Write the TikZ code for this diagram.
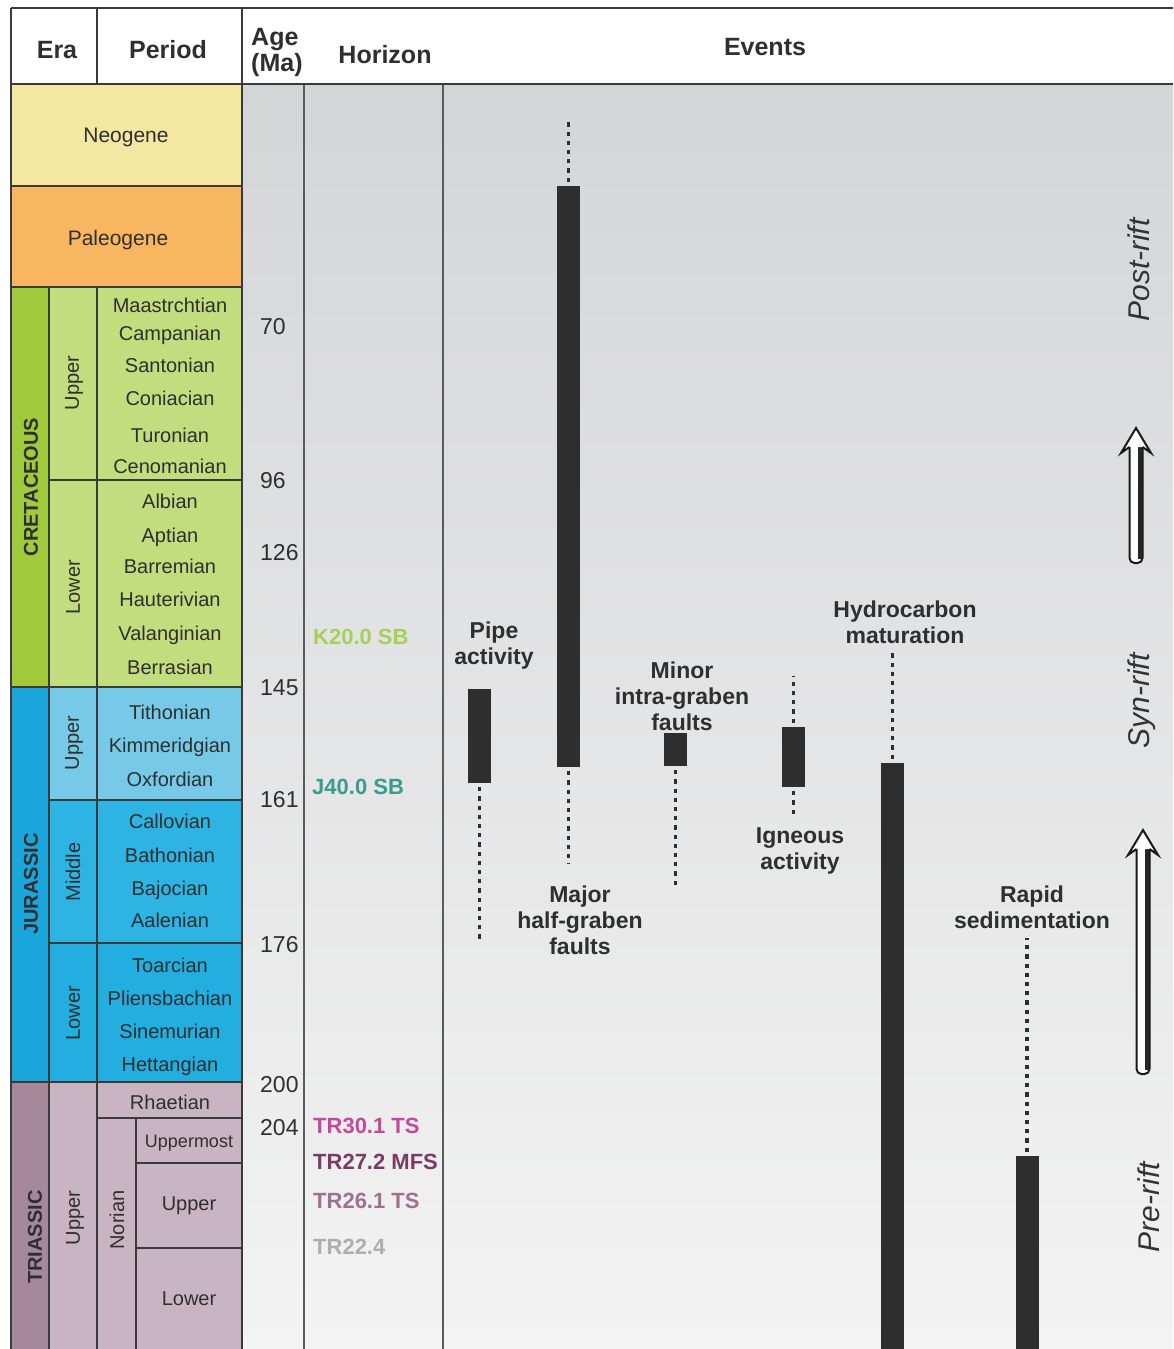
\documentclass[tikz,border=0pt]{standalone}
\usepackage{fontspec}
\setmainfont{Liberation Sans}
\definecolor{linec}{HTML}{3A3A3A}
\definecolor{vline}{HTML}{5A5A5A}
\definecolor{txt}{HTML}{2F2F2F}
\definecolor{neo}{HTML}{F3E7A2}
\definecolor{pal}{HTML}{F9B661}
\definecolor{kEra}{HTML}{A0C93C}
\definecolor{kSt}{HTML}{C2DD7E}
\definecolor{jEra}{HTML}{1BA6DB}
\definecolor{jUp}{HTML}{76CAE8}
\definecolor{jMid}{HTML}{2DB4E3}
\definecolor{jLow}{HTML}{22AEDF}
\definecolor{tEra}{HTML}{A5899A}
\definecolor{tSt}{HTML}{C9B5C1}
\definecolor{bgtop}{HTML}{D4D5D7}
\definecolor{bgbot}{HTML}{F3F3F3}
\definecolor{barc}{HTML}{2E2E2E}
\definecolor{hK}{HTML}{A5D05A}
\definecolor{hJ}{HTML}{3A9B8E}
\definecolor{hTa}{HTML}{C4489B}
\definecolor{hTb}{HTML}{7B3B63}
\definecolor{hTc}{HTML}{A0718F}
\definecolor{hTd}{HTML}{AEAEAE}
\newcommand\fsz[1]{\fontsize{#1}{#1}\selectfont}
\tikzset{
  every node/.style={inner sep=0pt, text=txt},
  divline/.style={draw=linec, line width=1.4pt},
  frameline/.style={draw=linec, line width=2pt},
  gline/.style={draw=vline, line width=1.5pt},
  stagelbl/.style={anchor=base, font=\fsz{20}},
  rotlbl/.style={rotate=90, font=\fsz{20}},
  eralbl/.style={rotate=90, font=\bfseries\fsz{20}},
  agelbl/.style={anchor=base west, font=\fsz{23}},
  hzlbl/.style={anchor=base west, font=\bfseries\fsz{22}},
  hdrlbl/.style={anchor=base, font=\bfseries\fsz{25}},
  evlbl/.style={align=center, font=\bfseries\fontsize{23}{26}\selectfont},
  evbar/.style={fill=barc, minimum width=23pt},
  dotline/.style={draw=barc, line width=3.8pt, dash pattern=on 4.2pt off 5pt, shorten <=4pt},
  riftlbl/.style={rotate=90, font=\itshape\fsz{30}, text=black!80},
}
\begin{document}
\begin{tikzpicture}[x=1pt,y=-1pt]
\useasboundingbox (0,0) rectangle (1173,1349);
\fill[white] (0,0) rectangle (1173,1349);
\shade[top color=bgtop, bottom color=bgbot] (242,84) rectangle (1173,1349);

% ---- time scale boxes
\filldraw[divline, fill=neo] (11,84) rectangle (242,186);
\filldraw[divline, fill=pal] (11,186) rectangle (242,287);
\filldraw[divline, fill=kEra] (11,287) rectangle (49,687);
\filldraw[divline, fill=kSt] (49,287) rectangle (97,480);
\filldraw[divline, fill=kSt] (49,480) rectangle (97,687);
\filldraw[divline, fill=kSt] (97,287) rectangle (242,480);
\filldraw[divline, fill=kSt] (97,480) rectangle (242,687);
\filldraw[divline, fill=jEra] (11,687) rectangle (49,1082);
\filldraw[divline, fill=jUp] (49,687) rectangle (97,800);
\filldraw[divline, fill=jUp] (97,687) rectangle (242,800);
\filldraw[divline, fill=jMid] (49,800) rectangle (97,943);
\filldraw[divline, fill=jMid] (97,800) rectangle (242,943);
\filldraw[divline, fill=jLow] (49,943) rectangle (97,1082);
\filldraw[divline, fill=jLow] (97,943) rectangle (242,1082);
\filldraw[divline, fill=tEra] (11,1082) rectangle (49,1360);
\filldraw[divline, fill=tSt] (49,1082) rectangle (97,1360);
\filldraw[divline, fill=tSt] (97,1082) rectangle (242,1118);
\filldraw[divline, fill=tSt] (97,1118) rectangle (136,1360);
\filldraw[divline, fill=tSt] (136,1118) rectangle (242,1163);
\filldraw[divline, fill=tSt] (136,1163) rectangle (242,1248);
\filldraw[divline, fill=tSt] (136,1248) rectangle (242,1360);

% ---- column lines and frame
\draw[gline] (304,84) -- (304,1349);
\draw[gline] (443,84) -- (443,1349);
\draw[frameline] (11,8) -- (1173,8);
\draw[frameline] (11,84) -- (1173,84);
\draw[frameline] (11,8) -- (11,1349);
\draw[frameline] (97,8) -- (97,84);
\draw[frameline] (242,8) -- (242,1349);

% ---- header
\node[hdrlbl] (hEra) at (57,58) {Era};
\node[hdrlbl] (hPer) at (168,58) {Period};
\node[anchor=west, align=left, font=\bfseries\fontsize{25}{26}\selectfont] (hAge) at (251,52) {Age\\(Ma)};
\node[hdrlbl] (hHor) at (385,63) {Horizon};
\node[hdrlbl] (hEv) at (765,55) {Events};

% ---- periods and eras
\node[anchor=base, font=\fsz{21}] (pNeo) at (126,142) {Neogene};
\node[anchor=base, font=\fsz{21}] (pPal) at (118,245) {Paleogene};
\node[eralbl] (eK) at (31,487) {CRETACEOUS};
\node[eralbl] (eJ) at (31,884) {JURASSIC};
\node[eralbl] (eT) at (35,1237) {TRIASSIC};
\node[rotlbl] (kU) at (74,383) {Upper};
\node[rotlbl] (kL) at (73,587) {Lower};
\node[rotlbl] (jU) at (74,743) {Upper};
\node[rotlbl] (jM) at (73,872) {Middle};
\node[rotlbl] (jL) at (73,1013) {Lower};
\node[rotlbl] (tU) at (75,1218) {Upper};
\node[rotlbl] (tN) at (117,1220) {Norian};

% ---- stages
\foreach \nm/\st/\yy in {
  s1/Maastrchtian/312, s2/Campanian/340, s3/Santonian/372, s4/Coniacian/405,
  s5/Turonian/442, s6/Cenomanian/473, s7/Albian/508, s8/Aptian/542,
  s9/Barremian/573, s10/Hauterivian/606, s11/Valanginian/640, s12/Berrasian/674,
  s13/Tithonian/719, s14/Kimmeridgian/752, s15/Oxfordian/786, s16/Callovian/828,
  s17/Bathonian/862, s18/Bajocian/895, s19/Aalenian/927, s20/Toarcian/972,
  s21/Pliensbachian/1005, s22/Sinemurian/1038, s23/Hettangian/1071, s24/Rhaetian/1109}
  \node[stagelbl] (\nm) at (170,\yy) {\st};
\node[anchor=base, font=\fsz{18}] (s25) at (189,1147) {Uppermost};
\node[stagelbl] (s26) at (189,1210) {Upper};
\node[stagelbl] (s27) at (189,1305) {Lower};

% ---- ages
\foreach \nm/\ag/\yy in {a1/70/334, a2/96/488, a3/126/560, a4/145/695,
  a5/161/807, a6/176/952, a7/200/1092, a8/204/1135}
  \node[agelbl] (\nm) at (260,\yy) {\ag};

% ---- horizons
\node[hzlbl, text=hK] (hz1) at (313,644) {K20.0 SB};
\node[hzlbl, text=hJ] (hz2) at (312,794) {J40.0 SB};
\node[hzlbl, text=hTa] (hz3) at (313,1133) {TR30.1 TS};
\node[hzlbl, text=hTb] (hz4) at (313,1169) {TR27.2 MFS};
\node[hzlbl, text=hTc] (hz5) at (313,1208) {TR26.1 TS};
\node[hzlbl, text=hTd] (hz6) at (313,1254) {TR22.4};

% ---- event labels
\node[evlbl] (lPipe) at (494,646) {Pipe\\activity};
\node[evlbl] (lMajor) at (580,920) {Major\\half-graben\\faults};
\node[evlbl] (lMinor) at (682,696) {Minor\\intra-graben\\faults};
\node[evlbl] (lIgn) at (800,851) {Igneous\\activity};
\node[evlbl] (lHyd) at (905,622) {Hydrocarbon\\maturation};
\node[evlbl] (lRap) at (1032,907) {Rapid\\sedimentation};

% ---- event bars
\node[evbar, minimum height=94pt] (bPipe) at (479.5,736) {};
\node[evbar, minimum height=581pt] (bMajor) at (568.5,476.5) {};
\node[evbar, minimum height=33pt] (bMinor) at (675.5,749.5) {};
\node[evbar, minimum height=60pt] (bIgn) at (793.5,757) {};
\node[evbar, minimum height=586pt] (bHyd) at (892.5,1056) {};
\node[evbar, minimum height=193pt] (bRap) at (1027,1252.5) {};

\coordinate (ePipe) at (479.5,943);
\coordinate (eMajorT) at (568.5,122);
\coordinate (eMajorB) at (568.5,864);
\coordinate (eMinor) at (675.5,888);
\coordinate (eIgnT) at (793.5,676);
\coordinate (eIgnB) at (793.5,818);
\coordinate (eHyd) at (892.5,652);
\coordinate (eRap) at (1027,938);
\draw[dotline] (bPipe.south) -- (ePipe);
\draw[dotline] (bMajor.north) -- (eMajorT);
\draw[dotline] (bMajor.south) -- (eMajorB);
\draw[dotline] (bMinor.south) -- (eMinor);
\draw[dotline] (bIgn.north) -- (eIgnT);
\draw[dotline] (bIgn.south) -- (eIgnB);
\draw[dotline] (bHyd.north) -- (eHyd);
\draw[dotline] (bRap.north) -- (eRap);

% ---- rift phases
\node[riftlbl] (rPost) at (1139,270) {Post-rift};
\node[riftlbl] (rSyn) at (1142,701) {Syn-rift};
\node[riftlbl] (rPre) at (1149,1207) {Pre-rift};
\foreach \ax/\ay/\ab in {1136/428/563, 1143/830/1074} {
  \filldraw[fill=white, draw=black!90, line width=2pt, rounded corners=5pt] (\ax-6.5,\ay+14) rectangle (\ax+6.5,\ab);
  \fill[black!85] (\ax+1.5,\ay+18) rectangle (\ax+5.5,\ab-4);
  \fill[white] (\ax,\ay) -- (\ax+15,\ay+25) -- (\ax+6.5,\ay+19) -- (\ax-6.5,\ay+19) -- (\ax-15,\ay+25) -- cycle;
  \draw[black!90, line width=2pt, line join=miter] (\ax-6.5,\ay+19) -- (\ax-15,\ay+25) -- (\ax,\ay) -- (\ax+15,\ay+25) -- (\ax+6.5,\ay+19);
}
\end{tikzpicture}
\end{document}
